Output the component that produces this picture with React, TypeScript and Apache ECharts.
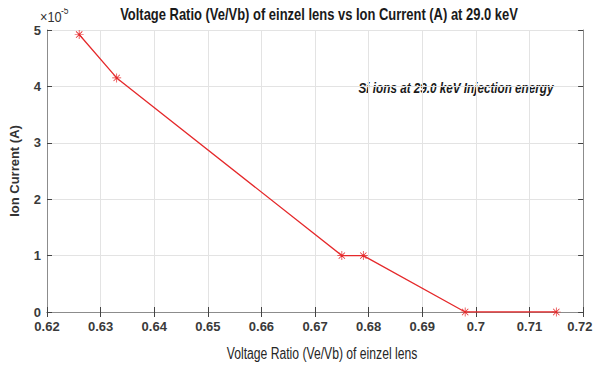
import React, { useEffect, useRef } from "react";
import * as echarts from "echarts";

const voltageRatio = [0.626, 0.633, 0.675, 0.679, 0.698, 0.715];
const ionCurrentE5 = [4.92, 4.15, 1.0, 1.0, 0.0, 0.0];
const xTicks = [0.62, 0.63, 0.64, 0.65, 0.66, 0.67, 0.68, 0.69, 0.7, 0.71, 0.72];
const yTicks = [0, 1, 2, 3, 4, 5];

const titleText = "Voltage Ratio (Ve/Vb) of einzel lens vs Ion Current (A) at 29.0 keV";
const xName = "Voltage Ratio (Ve/Vb) of einzel lens";
const yName = "Ion Current (A)";
const noteText = "Si ions at 29.0 keV Injection energy";
const scaleBase = "×10";
const scaleExp = "-5";

const SANS = "'Liberation Sans', Arial, sans-serif";
const ASTERISK =
  "path://M0,4.6H10V5.4H0Z M4.6,0H5.4V10H4.6Z M1.2,1.8L1.8,1.2L8.8,8.2L8.2,8.8Z M8.2,1.2L8.8,1.8L1.8,8.8L1.2,8.2Z";

export default function App() {
  const ref = useRef<HTMLDivElement>(null);
  useEffect(() => {
    if (!ref.current) return;
    const chart = echarts.init(ref.current, undefined, { renderer: "svg" });
    const axisCommon = {
      axisLine: { show: true, lineStyle: { color: "#8c8c8c", width: 1 } },
      axisTick: { show: true, inside: true, length: 5, lineStyle: { color: "#444" } },
    };
    const lastX = xTicks[xTicks.length - 1];
    chart.setOption({
      animation: false,
      backgroundColor: "#ffffff",
      grid: { left: 46, right: 12, top: 30, bottom: 58 },
      xAxis: [
        {
          type: "value",
          min: 0.62,
          max: 0.72,
          interval: 0.01,
          position: "bottom",
          ...axisCommon,
          splitLine: { show: true, lineStyle: { color: "#e3e3e3" } },
          axisLabel: {
            fontFamily: SANS,
            fontSize: 13,
            fontWeight: "bold",
            color: "#3a3a3a",
            margin: 8,
            formatter: (v: number) => {
              const t = xTicks.find((x) => Math.abs(x - v) < 1e-6);
              if (t === undefined) return "";
              return t === lastX ? `${t}\u2002` : String(t);
            },
          },
        },
        {
          type: "value",
          min: 0.62,
          max: 0.72,
          interval: 0.01,
          position: "top",
          ...axisCommon,
          splitLine: { show: false },
          axisLabel: { show: false },
        },
      ],
      yAxis: [
        {
          type: "value",
          min: 0,
          max: 5,
          interval: 1,
          position: "left",
          ...axisCommon,
          splitLine: { show: true, lineStyle: { color: "#e3e3e3" } },
          axisLabel: {
            fontFamily: SANS,
            fontSize: 13,
            fontWeight: "bold",
            color: "#3a3a3a",
            margin: 6,
            formatter: (v: number) => (yTicks.includes(v) ? String(v) : ""),
          },
          name: yName,
          nameLocation: "middle",
          nameGap: 26,
          nameRotate: 90,
          nameTextStyle: {
            fontFamily: SANS,
            fontSize: 13,
            fontWeight: "bold",
            color: "#333",
          },
        },
        {
          type: "value",
          min: 0,
          max: 5,
          interval: 1,
          position: "right",
          ...axisCommon,
          splitLine: { show: false },
          axisLabel: { show: false },
        },
      ],
      graphic: [
        {
          type: "text",
          x: 319,
          y: 15,
          scaleX: 0.81,
          style: {
            text: titleText,
            align: "center",
            verticalAlign: "middle",
            fontFamily: SANS,
            fontSize: 16,
            fontWeight: "bold",
            fill: "#1a1a1a",
          },
        },
        {
          type: "text",
          x: 322,
          y: 353,
          scaleX: 0.76,
          style: {
            text: xName,
            align: "center",
            verticalAlign: "middle",
            fontFamily: SANS,
            fontSize: 16,
            fill: "#262626",
          },
        },
        {
          type: "text",
          x: 40,
          y: 9,
          scaleX: 0.85,
          style: {
            text: scaleBase,
            fontFamily: SANS,
            fontSize: 15,
            fill: "#333",
          },
        },
        {
          type: "text",
          x: 61,
          y: 6,
          scaleX: 0.85,
          style: {
            text: scaleExp,
            fontFamily: SANS,
            fontSize: 10,
            fill: "#333",
          },
        },
        {
          type: "text",
          x: 456,
          y: 88,
          scaleX: 0.78,
          style: {
            text: noteText,
            align: "center",
            verticalAlign: "middle",
            fontFamily: SANS,
            fontSize: 15,
            fontStyle: "italic",
            fontWeight: "bold",
            fill: "#1a1a1a",
          },
        },
      ],
      series: [
        {
          type: "line",
          xAxisIndex: 0,
          yAxisIndex: 0,
          data: voltageRatio.map((x, i) => [x, ionCurrentE5[i]]),
          symbol: ASTERISK,
          symbolSize: 9,
          showSymbol: true,
          lineStyle: { color: "#e5292b", width: 1.3 },
          itemStyle: { color: "#e5292b" },
        },
      ],
    });
    return () => chart.dispose();
  }, []);
  return <div ref={ref} style={{ width: 602, height: 370, margin: -8 }} />;
}
